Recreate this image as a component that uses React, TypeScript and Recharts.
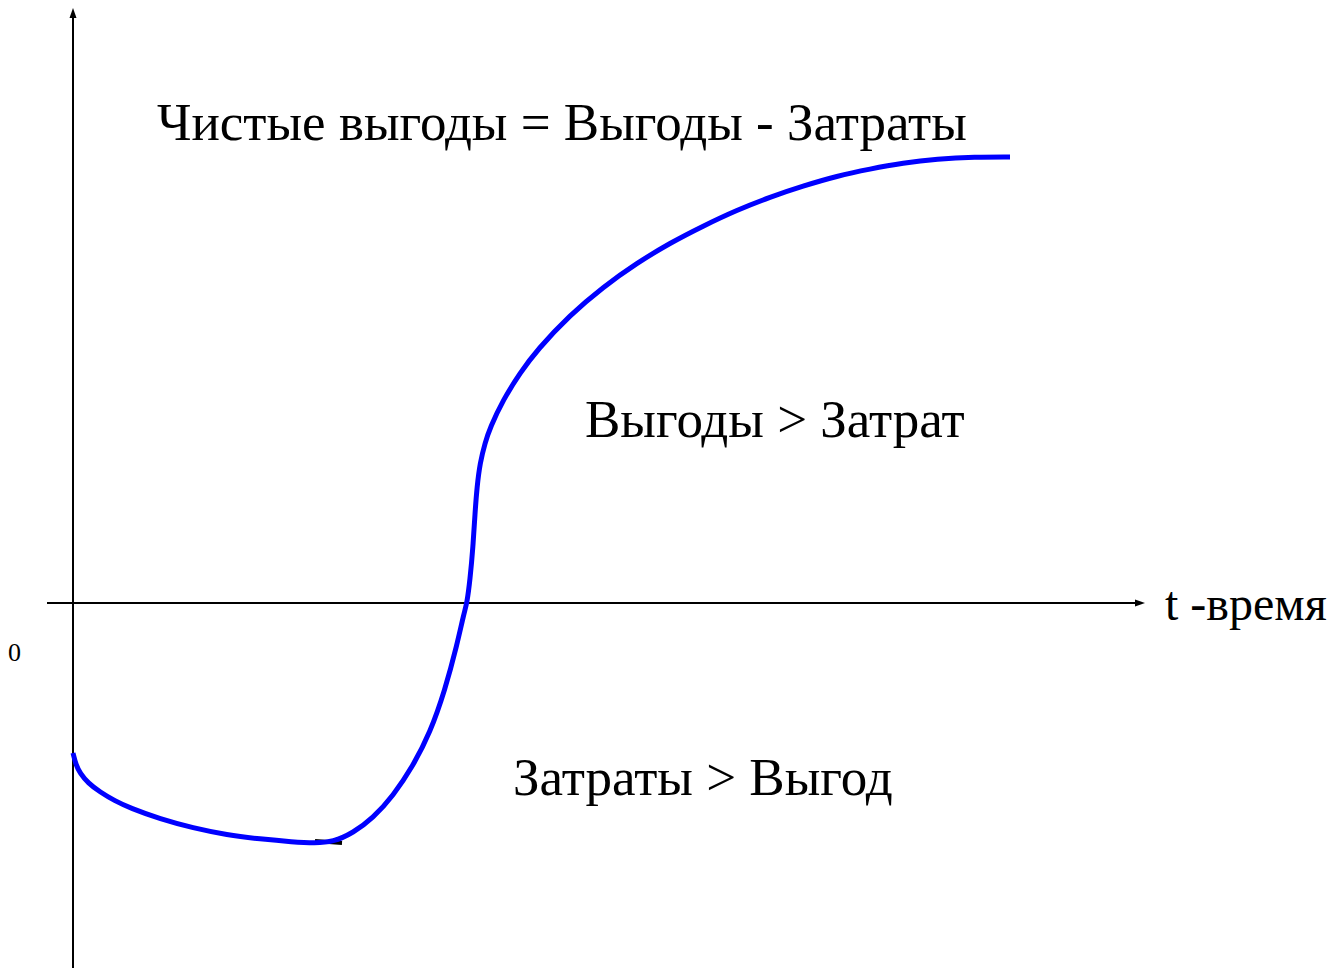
import { LineChart, Line, XAxis, YAxis, ReferenceLine } from "recharts";

// time axis (t) and net benefit values
const timeValues = [
  0, 0.03, 0.07, 0.15, 0.27, 0.42, 0.57, 0.87, 1.2, 1.54, 1.87, 2.2, 2.42,
  2.6, 2.8, 3.0, 3.2, 3.4, 3.57, 3.72, 3.84, 3.91, 3.94, 3.97, 4.0, 4.02,
  4.04, 4.07, 4.12, 4.17, 4.3, 4.47, 4.64, 4.97, 5.3, 5.64, 5.97, 6.3, 6.64,
  6.97, 7.3, 7.64, 7.97, 8.3, 8.64, 9.02, 9.37,
];
const netBenefit = [
  -1.5, -1.62, -1.7, -1.8, -1.89, -1.98, -2.05, -2.16, -2.25, -2.32, -2.36,
  -2.39, -2.4, -2.39, -2.3, -2.15, -1.93, -1.63, -1.3, -0.87, -0.42, -0.1, 0,
  0.23, 0.56, 0.9, 1.16, 1.4, 1.6, 1.75, 2.03, 2.3, 2.53, 2.88, 3.16, 3.4,
  3.6, 3.77, 3.93, 4.06, 4.17, 4.27, 4.34, 4.4, 4.44, 4.46, 4.46,
];

// the little dark stroke under the minimum
const markTimes = [2.42, 2.69];
const markValues = [-2.38, -2.4];

const curve = timeValues.map((t, i) => ({ t, v: netBenefit[i] }));
const mark = markTimes.map((t, i) => ({ t, v: markValues[i] }));

const X_DOMAIN: [number, number] = [-0.26, 10.72];
const Y_DOMAIN: [number, number] = [-3.65, 5.95];

const serif = "'Liberation Serif', 'Times New Roman', serif";

function ArrowAxis(props: any) {
  const { x1, y1, x2, y2 } = props;
  const dx = x2 - x1;
  const dy = y2 - y1;
  const len = Math.sqrt(dx * dx + dy * dy) || 1;
  const ux = dx / len;
  const uy = dy / len;
  const head = 10;
  const half = 3.5;
  const bx = x2 - ux * head;
  const by = y2 - uy * head;
  const pts = [
    `${x2},${y2}`,
    `${bx - uy * half},${by + ux * half}`,
    `${bx + uy * half},${by - ux * half}`,
  ].join(" ");
  return (
    <g>
      <line x1={x1} y1={y1} x2={bx} y2={by} stroke="#000" strokeWidth={2} />
      <polygon points={pts} fill="#000" />
    </g>
  );
}

export default function App() {
  return (
    <div style={{ position: "absolute", left: 0, top: 0, width: 1330, height: 968, background: "#fff" }}>
      <LineChart
        width={1330}
        height={968}
        data={curve}
        margin={{ top: 8, right: 185, bottom: 0, left: 47 }}
      >
        <XAxis dataKey="t" type="number" domain={X_DOMAIN} allowDataOverflow hide />
        <YAxis type="number" domain={Y_DOMAIN} allowDataOverflow hide />
        <ReferenceLine
          segment={[
            { x: 0, y: Y_DOMAIN[0] },
            { x: 0, y: Y_DOMAIN[1] },
          ]}
          ifOverflow="visible"
          shape={ArrowAxis}
        />
        <ReferenceLine
          segment={[
            { x: X_DOMAIN[0], y: 0 },
            { x: X_DOMAIN[1], y: 0 },
          ]}
          ifOverflow="visible"
          shape={ArrowAxis}
        />
        <Line
          data={mark}
          dataKey="v"
          type="linear"
          stroke="#000"
          strokeWidth={4}
          dot={false}
          isAnimationActive={false}
        />
        <Line
          dataKey="v"
          type="basis"
          stroke="#0000ff"
          strokeWidth={5}
          dot={false}
          isAnimationActive={false}
        />
      </LineChart>
      <svg
        width={1330}
        height={968}
        style={{ position: "absolute", left: 0, top: 0, pointerEvents: "none" }}
      >
        <g fontFamily={serif} fill="#000">
          <text x={157} y={140} fontSize={53}>
            Чистые выгоды = Выгоды - Затраты
          </text>
          <text x={585} y={437} fontSize={53}>
            Выгоды &gt; Затрат
          </text>
          <text x={513} y={795} fontSize={53}>
            Затраты &gt; Выгод
          </text>
          <text x={1165} y={620} fontSize={48}>
            t -время
          </text>
          <text x={8} y={661} fontSize={26}>
            0
          </text>
        </g>
      </svg>
    </div>
  );
}
